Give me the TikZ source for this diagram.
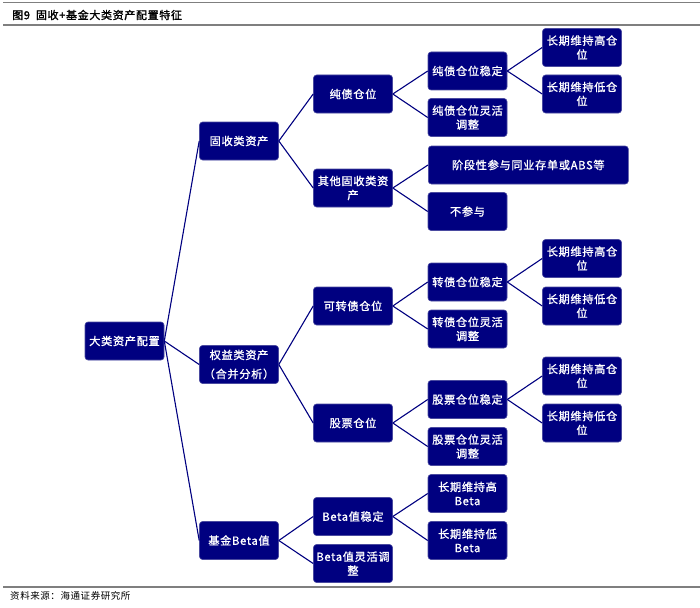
\documentclass[tikz,border=0pt]{standalone}
\usepackage{fontspec}
\setmainfont{Noto Sans CJK SC}[LetterSpace=6,AutoFakeBold=1.5]
\newfontfamily\cjk{Noto Sans CJK SC}[LetterSpace=6,FakeBold=1.2]
\usetikzlibrary{arrows.meta}
\definecolor{boxblue}{HTML}{000080}
\definecolor{boxedge}{HTML}{4A4AA0}
\definecolor{rulegray}{HTML}{7F7F7F}
\tikzset{line width=.8pt,
  box/.style={rounded corners=3pt,fill=boxblue,draw=boxedge,line width=.6pt,
    text=white,minimum width=79pt,minimum height=38pt,align=center,inner sep=1pt,
    font=\cjk\fontsize{11.2}{14}\selectfont},
  widebox/.style={box,minimum width=200pt},
  link/.style={draw=boxblue,line width=1.1pt},
  rulebar/.style={draw=rulegray,line width=1.3pt}}

\begin{document}
\begin{tikzpicture}[x=1pt,y=-1pt]
\useasboundingbox (0,0) rectangle (700,607);
% frame lines and captions
\draw[rulebar,line width=1pt] (3,3)--(700,3);
\draw[rulebar] (3,25)--(700,25);
\draw[rulebar] (3,587)--(700,587);
\node[anchor=west,inner sep=0pt,font=\bfseries\fontsize{11}{13}\selectfont] (title) at (12,15) {图9\hspace{6pt}固收+基金大类资产配置特征};
\node[anchor=west,inner sep=0pt,font=\fontsize{9.5}{11}\selectfont] (source) at (10,596) {资料来源：海通证券研究所};
% tree
\node[box] (root) at (124.5,341) {大类资产配置};
\node[box] (g1) at (239,141) {固收类资产};
\node[box] (g2) at (239,364.5) {权益类资产\\[5pt]（合并分析）};
\node[box] (g3) at (239,540.5) {基金Beta值};
\node[box] (a1) at (353,94) {纯债仓位};
\node[box] (a2) at (353,188) {其他固收类资\\产};
\node[box] (b1) at (353,306) {可转债仓位};
\node[box] (b2) at (353,423) {股票仓位};
\node[box] (c1) at (353,516.5) {Beta值稳定};
\node[box] (c2) at (353,563.5) {Beta值灵活调\\整};
\node[box] (a11) at (467.5,71) {纯债仓位稳定};
\node[box] (a12) at (467.5,117.5) {纯债仓位灵活\\调整};
\node[widebox,anchor=west] (a21) at (428,165) {阶段性参与同业存单或ABS等};
\node[box] (a22) at (467.5,211.5) {不参与};
\node[box] (b11) at (467.5,282) {转债仓位稳定};
\node[box] (b12) at (467.5,329) {转债仓位灵活\\调整};
\node[box] (b21) at (467.5,399.5) {股票仓位稳定};
\node[box] (b22) at (467.5,446.5) {股票仓位灵活\\调整};
\node[box] (c11) at (467.5,493.5) {长期维持高\\Beta};
\node[box] (c12) at (467.5,540.5) {长期维持低\\Beta};
\foreach \n/\y/\w in {a111/47.5/高,a112/94/低,b111/258.5/高,b112/306/低,b211/376/高,b212/423/低}
  \node[box] (\n) at (582,\y) {长期维持\w 仓\\位};
\foreach \a/\b in {root/g1,root/g2,root/g3,g1/a1,g1/a2,g2/b1,g2/b2,g3/c1,g3/c2,
  a1/a11,a1/a12,a2/a21,a2/a22,b1/b11,b1/b12,b2/b21,b2/b22,c1/c11,c1/c12,
  a11/a111,a11/a112,b11/b111,b11/b112,b21/b211,b21/b212}
  \draw[link] (\a.east)--(\b.west);
\end{tikzpicture}
\end{document}
